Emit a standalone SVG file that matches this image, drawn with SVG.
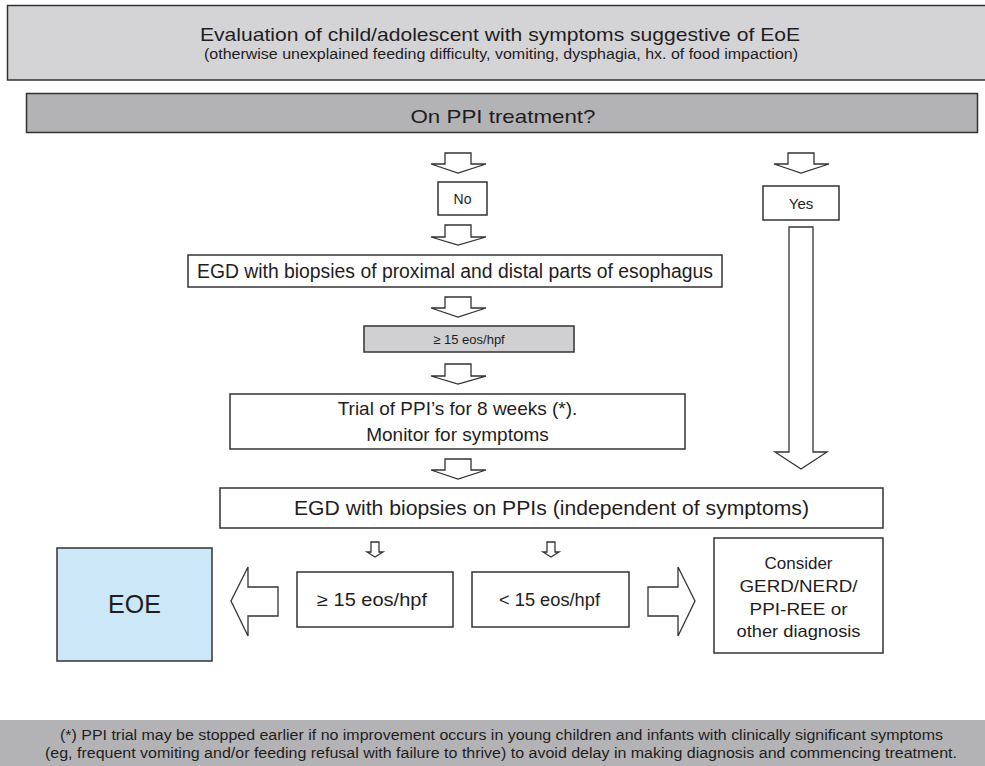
<svg xmlns="http://www.w3.org/2000/svg" width="985" height="766" viewBox="0 0 985 766">
<defs>
<style>
.box{fill:#ffffff;stroke:#333333;stroke-width:1.5}
.arr{fill:#ffffff;stroke:#333333;stroke-width:1.3;stroke-linejoin:miter}
text{font-family:"Liberation Sans",Arial,sans-serif;fill:#1f1d1e;text-anchor:middle}
</style>
</defs>
<rect x="0" y="0" width="985" height="766" fill="#ffffff"/>
<g id="eval">
<rect x="7.5" y="5.5" width="985" height="74.5" fill="#d4d4d6" stroke="#333333" stroke-width="1.5"/>
<text x="500" y="41" font-size="19" textLength="600" lengthAdjust="spacingAndGlyphs">Evaluation of child/adolescent with symptoms suggestive of EoE</text>
<text x="501" y="59" font-size="14" textLength="594" lengthAdjust="spacingAndGlyphs">(otherwise unexplained feeding difficulty, vomiting, dysphagia, hx. of food impaction)</text>
</g>
<g id="ppi">
<rect x="26.5" y="93.5" width="951" height="39" fill="#b3b3b5" stroke="#333333" stroke-width="1.5"/>
<text x="503" y="123" font-size="19" textLength="185" lengthAdjust="spacingAndGlyphs">On PPI treatment?</text>
</g>
<g id="no">
<rect class="box" x="438" y="182" width="49" height="33"/>
<text x="462.5" y="204" font-size="14">No</text>
</g>
<g id="yes">
<rect class="box" x="763" y="186" width="76" height="34"/>
<text x="801" y="209" font-size="15">Yes</text>
</g>
<g id="egd1">
<rect class="box" x="188" y="255" width="534" height="32"/>
<text x="455" y="278" font-size="19.5" textLength="516" lengthAdjust="spacingAndGlyphs">EGD with biopsies of proximal and distal parts of esophagus</text>
</g>
<g id="eos1">
<rect x="364" y="326" width="210" height="26" fill="#d0d0d2" stroke="#333333" stroke-width="1.5"/>
<text x="469" y="344" font-size="13">≥ 15 eos/hpf</text>
</g>
<g id="trial">
<rect class="box" x="230" y="394" width="455" height="55"/>
<text x="457.5" y="415" font-size="19">Trial of PPI’s for 8 weeks (*).</text>
<text x="457.5" y="441" font-size="19">Monitor for symptoms</text>
</g>
<g id="egd2">
<rect class="box" x="220" y="488" width="663" height="40"/>
<text x="551.5" y="515" font-size="20.5" textLength="515" lengthAdjust="spacingAndGlyphs">EGD with biopsies on PPIs (independent of symptoms)</text>
</g>
<g id="eoe">
<rect x="57" y="548" width="155" height="113" fill="#cce8f8" stroke="#333333" stroke-width="1.5"/>
<text x="134.5" y="613" font-size="25">EOE</text>
</g>
<g id="ge15">
<rect class="box" x="297" y="572" width="156" height="55"/>
<text x="372" y="606" font-size="18" textLength="110" lengthAdjust="spacingAndGlyphs">≥ 15 eos/hpf</text>
</g>
<g id="lt15">
<rect class="box" x="472" y="572" width="157" height="55"/>
<text x="549.5" y="606" font-size="18" textLength="101" lengthAdjust="spacingAndGlyphs">&lt; 15 eos/hpf</text>
</g>
<g id="consider">
<rect class="box" x="714" y="538" width="169" height="115"/>
<text x="798.5" y="569" font-size="17">Consider</text>
<text x="798.5" y="592" font-size="17" textLength="118" lengthAdjust="spacingAndGlyphs">GERD/NERD/</text>
<text x="798.5" y="615" font-size="17" textLength="98" lengthAdjust="spacingAndGlyphs">PPI-REE or</text>
<text x="798.5" y="637" font-size="17" textLength="124" lengthAdjust="spacingAndGlyphs">other diagnosis</text>
</g>
<g id="footnote">
<rect x="0" y="720" width="985" height="46" fill="#b3b3b5"/>
<text x="501.5" y="740" font-size="14" textLength="883" lengthAdjust="spacingAndGlyphs">(*) PPI trial may be stopped earlier if no improvement occurs in young children and infants with clinically significant symptoms</text>
<text x="501" y="758" font-size="14" textLength="912" lengthAdjust="spacingAndGlyphs">(eg, frequent vomiting and/or feeding refusal with failure to thrive) to avoid delay in making diagnosis and commencing treatment.</text>
</g>
<g id="connectors">
<path class="arr" d="M445,153 H471 V164 H486 L458,173 L431,164 H445 Z"/>
<path class="arr" d="M445,225 H471 V237 H486 L458,245 L431,237 H445 Z"/>
<path class="arr" d="M445,297 H471 V308 H486 L458,317 L431,308 H445 Z"/>
<path class="arr" d="M445,364 H471 V376 H486 L458,384 L431,376 H445 Z"/>
<path class="arr" d="M445,459 H471 V470 H486 L458,479 L431,470 H445 Z"/>
<path class="arr" d="M788,153 H814 V164 H829 L801,173 L774,164 H788 Z"/>
<path class="arr" d="M789,227 H813 V452 H827 L801,469 L775,452 H789 Z"/>
<path class="arr" d="M371,542 H379 V552 H383 L375,557 L367,552 H371 Z"/>
<path class="arr" d="M547,542 H555 V552 H559 L551,557 L543,552 H547 Z"/>
<path class="arr" d="M278,587 V616 H248 V636 L231,601 L248,567 V587 Z"/>
<path class="arr" d="M648,587 V616 H678 V636 L695,601 L678,567 V587 Z"/>
</g>
</svg>
